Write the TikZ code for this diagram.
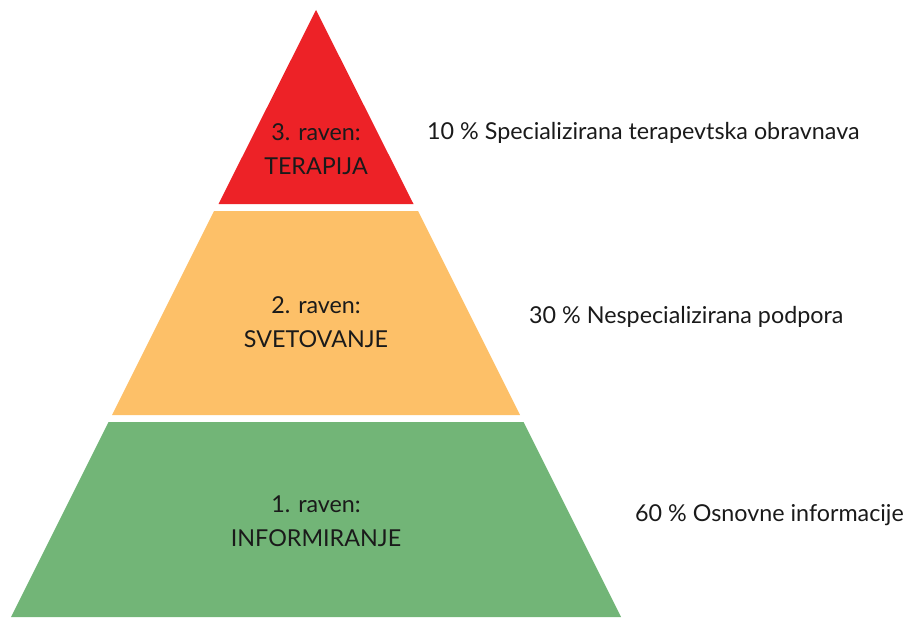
\documentclass[tikz,border=0pt]{standalone}
\usepackage{fontspec}
\setmainfont{Lato}
\definecolor{lvred}{HTML}{ED2227}
\definecolor{lvyellow}{HTML}{FDC068}
\definecolor{lvgreen}{HTML}{72B577}
\definecolor{lvtext}{HTML}{1A1A1A}
\tikzset{
  lvltext/.style={text=lvtext, font=\fontsize{23.3}{34}\selectfont, align=center, inner sep=0pt},
  sidetext/.style={text=lvtext, font=\fontsize{23.3}{26}\selectfont, anchor=west, inner sep=0pt},
}
\begin{document}
\begin{tikzpicture}[x=1pt,y=-1pt]
\useasboundingbox (0,0) rectangle (905,618);
% pyramid: apex (316,10), half-width grows 0.5025 per px
\fill[lvred] (316,10) -- (413.5,204) -- (218.5,204) -- cycle;
\fill[lvyellow] (214.0,211) -- (418.0,211) -- (520.0,415) -- (112.0,415) -- cycle;
\fill[lvgreen] (108.5,422) -- (523.5,422) -- (621.0,617) -- (11.0,617) -- cycle;
\node[lvltext] (l3) at (316,149) {3. raven:\\TERAPIJA};
\node[lvltext] (l2) at (316,322) {2. raven:\\SVETOVANJE};
\node[lvltext] (l1) at (316,521) {1. raven:\\INFORMIRANJE};
\node[sidetext] (t3) at (427,133) {10 \% Specializirana terapevtska obravnava};
\node[sidetext] (t2) at (529,317) {30 \% Nespecializirana podpora};
\node[sidetext] (t1) at (635,515) {60 \% Osnovne informacije};
\end{tikzpicture}
\end{document}
